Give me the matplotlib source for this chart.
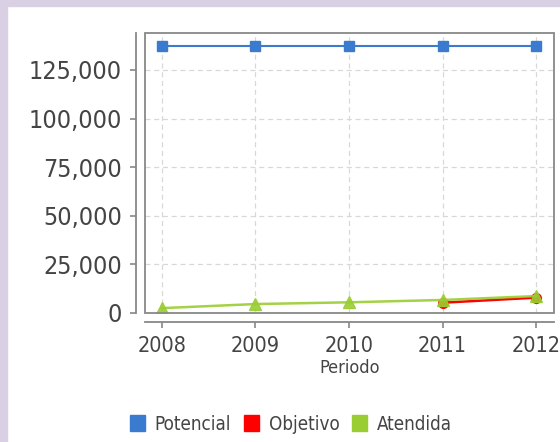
import matplotlib.pyplot as plt
from matplotlib import font_manager
from matplotlib.patches import Rectangle, Patch
from matplotlib.ticker import FuncFormatter

years = [2008, 2009, 2010, 2011, 2012]
potencial = [137400, 137400, 137400, 137400, 137400]
objetivo_years = [2011, 2012]
objetivo = [5300, 7900]
atendida = [2500, 4600, 5500, 6700, 8700]

c_pot = '#3a7bd0'
c_obj = '#ff0000'
c_ate = '#9acd32'
gray = '#888888'
txt = '#444444'

# narrow font like the original, if one is installed
fam = 'DejaVu Sans'
stretch = 'normal'
f = font_manager.findfont(font_manager.FontProperties(family='DejaVu Sans', stretch='condensed'))
if 'Condensed' in f:
    stretch = 'condensed'
else:
    f = font_manager.findfont(font_manager.FontProperties(family='Liberation Sans Narrow'),
                              fallback_to_default=False)
    if 'Narrow' in f:
        fam = 'Liberation Sans Narrow'
plt.rcParams['font.family'] = [fam]
plt.rcParams['font.stretch'] = stretch

fig = plt.figure(figsize=(5.6, 4.42), dpi=100)
fig.patch.set_facecolor('white')
# lavender frame on top and left
fig.patches.append(Rectangle((0, 0), 7 / 560, 1, transform=fig.transFigure,
                             color='#d9d0e4', zorder=0))
fig.patches.append(Rectangle((0, 1 - 6 / 442), 1, 6 / 442, transform=fig.transFigure,
                             color='#d9d0e4', zorder=0))

ax = fig.add_axes([145 / 560, 129 / 442, 409 / 560, 280 / 442])

ax.plot(years, potencial, color=c_pot, lw=1.5, marker='s', ms=7, zorder=3)
ax.plot(objetivo_years, objetivo, color=c_obj, lw=1.8, marker='o', ms=7, zorder=3)
ax.plot(years, atendida, color=c_ate, lw=1.8, marker='^', ms=8, zorder=4, alpha=0.9)

ax.set_xlim(2007.82, 2012.19)
ax.set_ylim(0, 144000)
ax.set_xticks(years)
ax.set_yticks([0, 25000, 50000, 75000, 100000, 125000])
ax.yaxis.set_major_formatter(FuncFormatter(lambda v, p: f'{int(v):,}'))

ax.grid(True, color='#d8d8d8', ls=(0, (4, 3)), lw=0.9)
ax.set_axisbelow(True)

for s in ['top', 'right']:
    ax.spines[s].set_visible(False)
for s in ['left', 'bottom']:
    ax.spines[s].set_position(('outward', 6.5))
    ax.spines[s].set_color(gray)
    ax.spines[s].set_linewidth(1.3)
ax.add_patch(Rectangle((0, 0), 1, 1, transform=ax.transAxes, fill=False,
                       ec=gray, lw=1.3, clip_on=False, zorder=5))

ax.tick_params(axis='both', colors=gray, length=4, width=1.2, labelcolor=txt)
ax.tick_params(axis='y', labelsize=18, pad=6)
ax.tick_params(axis='x', labelsize=15.5, pad=6)

ax.set_xlabel('Periodo', fontsize=13, color=txt, labelpad=2)

handles = [Patch(color=c_pot, label='Potencial'),
           Patch(color=c_obj, label='Objetivo'),
           Patch(color=c_ate, label='Atendida')]
fig.legend(handles=handles, loc='center', bbox_to_anchor=(291 / 560, 18 / 442), ncol=3,
           frameon=False, fontsize=13.5, handlelength=0.8, handleheight=0.9,
           handletextpad=0.5, columnspacing=0.7, labelcolor=txt)

fig.savefig('out.png', dpi=100)
